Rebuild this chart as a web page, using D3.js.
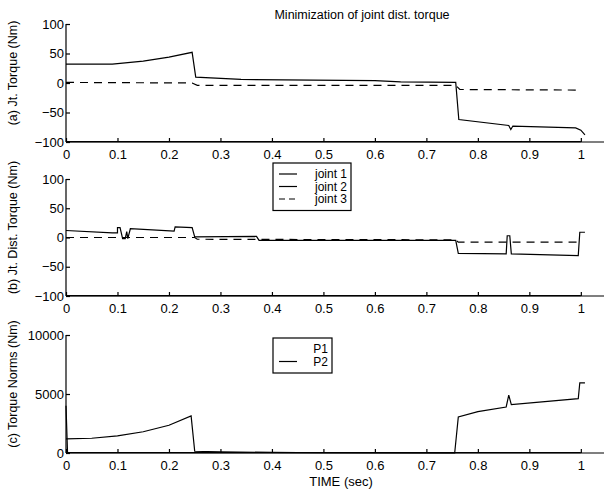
<!DOCTYPE html>
<meta charset="utf-8">
<style>
  body { margin: 0; background: #fff; }
  text { font-family: "Liberation Sans", Arial, sans-serif; fill: #000; }
</style>
<body>
<script src="https://d3js.org/d3.v7.min.js"></script>
<script>
// x tick labels, shared by all three panels
var xTicks = [0, 0.1, 0.2, 0.3, 0.4, 0.5, 0.6, 0.7, 0.8, 0.9, 1];
var xTickLabels = ["0", "0.1", "0.2", "0.3", "0.4", "0.5", "0.6", "0.7", "0.8", "0.9", "1"];

// (a) joint torque  [time, Nm]
var jtTorque1 = [[0,32],[0.09,32],[0.15,37],[0.2,44],[0.245,52],[0.252,10],[0.34,6],[0.48,5],[0.6,4],[0.65,2],[0.757,1],[0.763,-62],[0.86,-72],[0.864,-79],[0.868,-73],[0.99,-76],[1.0,-80],[1.008,-88]];
var jtTorque2 = [[0,-99.5],[1.0,-99.5]];
var jtTorque3 = [[0,1],[0.245,0],[0.255,-4],[0.757,-4],[0.765,-11],[1.0,-12]];

// (b) joint disturbance torque
var distTorque1 = [[0,12],[0.09,8],[0.1,8],[0.1,17],[0.105,17],[0.11,-2],[0.115,-2],[0.118,10],[0.12,-2],[0.125,15],[0.21,11],[0.212,18],[0.245,17],[0.25,1],[0.37,2],[0.375,-5],[0.757,-5],[0.762,-27],[0.855,-28],[0.857,3],[0.862,3],[0.865,-28],[0.995,-31],[0.998,9],[1.008,9]];
var distTorque2 = [[0,-99.5],[1.0,-99.5]];
var distTorque3 = [[0,0],[0.25,0],[0.255,-3],[0.757,-4],[0.762,-8],[1.0,-8]];

// (c) torque norms
var normP1 = [[0,4000],[0.003,30],[1.0,30]];
var normP2 = [[0,1200],[0.05,1250],[0.1,1450],[0.15,1800],[0.2,2350],[0.243,3150],[0.25,150],[0.3,100],[0.4,50],[0.5,20],[0.755,0],[0.762,3050],[0.8,3500],[0.855,3900],[0.86,4900],[0.865,4100],[0.995,4600],[0.998,5950],[1.008,5950]];

var torqueTicks = [-100, -50, 0, 50, 100];
var normTicks = [0, 5000, 10000];

var W = 604, H = 493;
var svg = d3.select("body").append("svg").attr("width", W).attr("height", H);

var x = d3.scaleLinear().domain([0, 1.045]).range([66, 604]);

var panels = [
  {top: 24, bottom: 142, domain: [-100, 100], ticks: torqueTicks, label: "(a) Jt. Torque (Nm)",
   series: [{d: jtTorque1}, {d: jtTorque2}, {d: jtTorque3, dash: "8,6"}]},
  {top: 179, bottom: 296, domain: [-100, 100], ticks: torqueTicks, label: "(b) Jt. Dist. Torque (Nm)",
   series: [{d: distTorque1}, {d: distTorque2}, {d: distTorque3, dash: "8,6"}]},
  {top: 335, bottom: 453, domain: [0, 10000], ticks: normTicks, label: "(c) Torque Norms (Nm)",
   series: [{d: normP1}, {d: normP2}]}
];

panels.forEach(function(p) {
  var y = d3.scaleLinear().domain(p.domain).range([p.bottom, p.top]);
  var g = svg.append("g");

  // bottom axis, ticks pointing up
  var xa = g.append("g")
    .attr("transform", "translate(0," + p.bottom + ")")
    .call(d3.axisBottom(x).tickValues(xTicks).tickSize(-4).tickPadding(8)
      .tickFormat(function(d, i) { return xTickLabels[i]; }));
  xa.select(".domain").attr("d", "M" + x(0) + ",0H" + W);

  // left axis, ticks pointing right
  var ya = g.append("g")
    .attr("transform", "translate(" + x(0) + ",0)")
    .call(d3.axisLeft(y).tickValues(p.ticks).tickSize(-4).tickPadding(2)
      .tickFormat(d3.format("d")));
  ya.select(".domain").attr("d", "M0," + p.top + "V" + p.bottom);

  g.selectAll(".tick text").style("font-size", "13px").style("font-family", "Liberation Sans, Arial, sans-serif");
  g.selectAll(".domain, .tick line").attr("stroke", "#000").attr("stroke-width", 1.2);

  var line = d3.line().x(function(d) { return x(d[0]); }).y(function(d) { return y(d[1]); });
  p.series.forEach(function(s) {
    g.append("path").datum(s.d)
      .attr("fill", "none").attr("stroke", "#000").attr("stroke-width", 1.2)
      .attr("stroke-dasharray", s.dash || null)
      .attr("d", line);
  });

  g.append("text")
    .attr("transform", "translate(17," + ((p.top + p.bottom) / 2 - 10) + ") rotate(-90)")
    .attr("text-anchor", "middle").style("font-size", "12.5px")
    .text(p.label);
});

// title
svg.append("text").attr("x", 362).attr("y", 19).attr("text-anchor", "middle")
  .style("font-size", "12.5px").text("Minimization of joint dist. torque");

// x label
svg.append("text").attr("x", 341).attr("y", 486).attr("text-anchor", "middle")
  .style("font-size", "13px").text("TIME (sec)");

// legends
function legend(x0, y0, w, names, dashes, rowH) {
  var lg = svg.append("g").attr("transform", "translate(" + x0 + "," + y0 + ")");
  lg.append("rect").attr("width", w).attr("height", names.length * rowH + 10)
    .attr("fill", "#fff").attr("stroke", "#000").attr("stroke-width", 1.2);
  names.forEach(function(n, i) {
    var cy = 11 + i * rowH;
    if (dashes[i] !== "none")
      lg.append("line").attr("x1", 6).attr("x2", 24).attr("y1", cy).attr("y2", cy)
        .attr("stroke", "#000").attr("stroke-width", 1.2).attr("stroke-dasharray", dashes[i]);
    lg.append("text").attr("x", w - 4).attr("y", cy + 4).attr("text-anchor", "end")
      .style("font-size", "12px").text(n);
  });
}
legend(273, 163, 78, ["joint 1", "joint 2", "joint 3"], [null, null, "6,4"], 12.5);
legend(273, 338, 59, ["P1", "P2"], ["none", null], 12.5);
</script>
</body>
